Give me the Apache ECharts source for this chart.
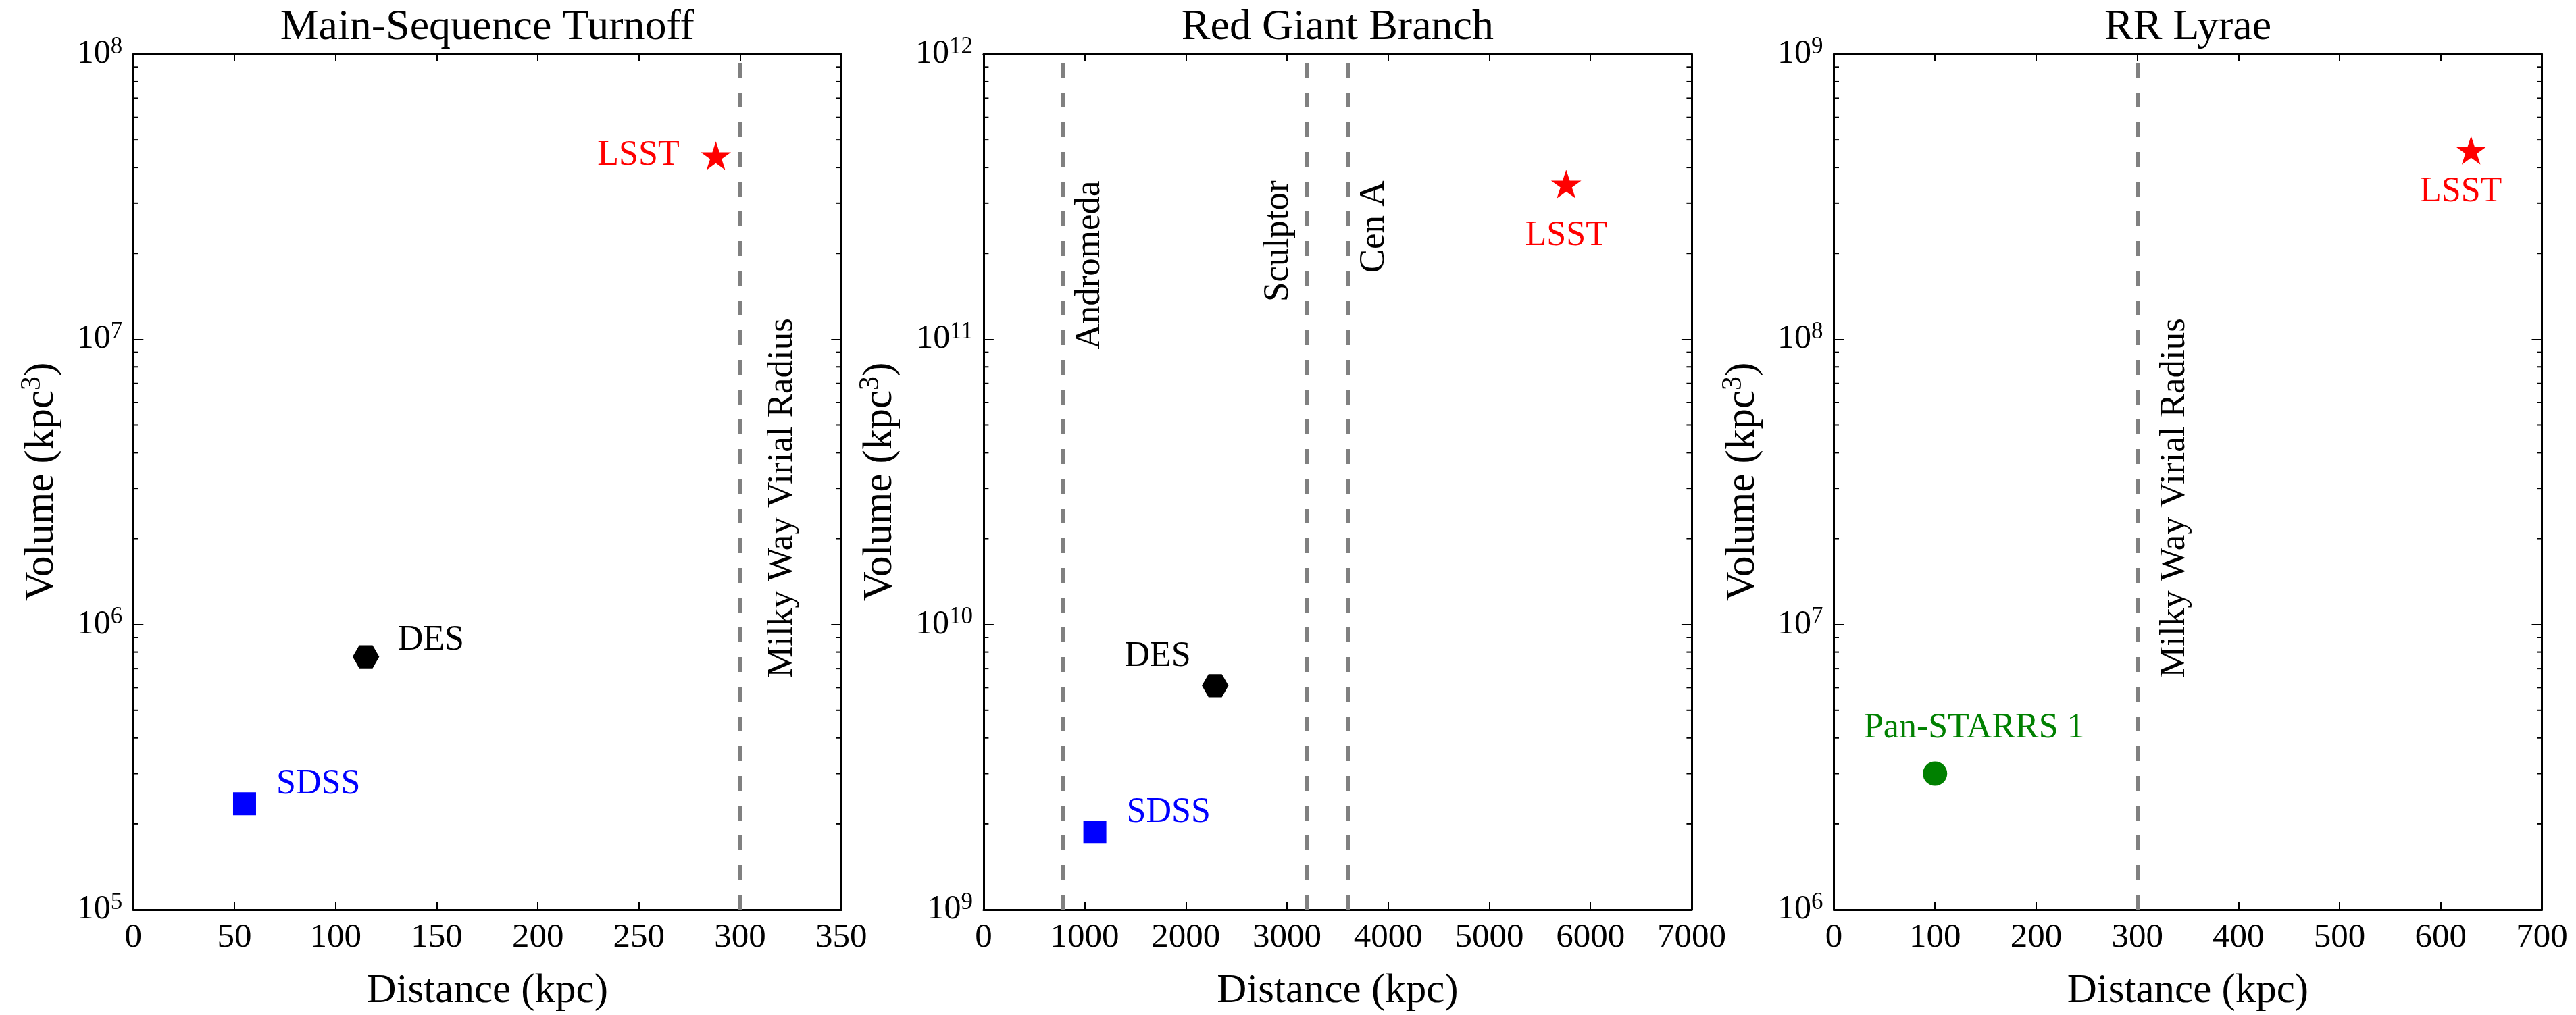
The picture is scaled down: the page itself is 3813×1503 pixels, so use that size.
<!DOCTYPE html>
<html>
<head>
<meta charset="utf-8">
<title>Survey volumes</title>
<script src="https://cdn.jsdelivr.net/npm/echarts@6/dist/echarts.min.js"></script>
<style>
  html, body { margin: 0; padding: 0; background: #fff; }
  #chart { width: 3813px; height: 1503px; }
</style>
</head>
<body>
<div id="chart"></div>
<script>
// panels
const panelTitles = ['Main-Sequence Turnoff', 'Red Giant Branch', 'RR Lyrae'];
const xMax = [350, 7000, 700];
const xStep = [50, 1000, 100];
const yMin = [1e5, 1e9, 1e6];
const yMax = [1e8, 1e12, 1e9];
const minorMultipliers = [2, 3, 4, 5, 6, 7, 8, 9];

// surveys (distance in kpc, volume in kpc^3), one entry per panel
const lsstDist = [288, 5760, 630];
const lsstVol = [4.4e7, 3.5e11, 4.6e8];
const desDist = [115, 2290];
const desVol = [7.7e5, 6.1e9];
const sdssDist = [55, 1100];
const sdssVol = [2.35e5, 1.87e9];
const panStarrsDist = [100];
const panStarrsVol = [3.0e6];

// reference lines
const mwVirialRadius = 300;
const groupNames = ['Andromeda', 'Sculptor', 'Cen A'];
const groupDist = [780, 3200, 3600];

const FONT = "'Liberation Serif', 'Times New Roman', serif";
const RED = '#ff0000', BLUE = '#0000ff', GREEN = '#008000', BLACK = '#000000', GRAY = '#808080';

const gridLeft = [197.3, 1455.9, 2714.5];
const gridTop = 80, gridW = 1048, gridH = 1267;

function starPath() {
  const pts = [];
  for (let k = 0; k < 10; k++) {
    const r = k % 2 ? 0.381966 : 1;
    const a = -Math.PI / 2 + k * Math.PI / 5;
    pts.push((r * Math.cos(a)).toFixed(4) + ',' + (r * Math.sin(a)).toFixed(4));
  }
  return 'path://M' + pts.join('L') + 'Z';
}
const STAR = starPath();
const HEX = 'path://M0,866L500,0L1500,0L2000,866L1500,1732L500,1732Z';

const axisLine = { show: true, onZero: false, lineStyle: { color: BLACK, width: 3 } };

const grids = [], xAxes = [], yAxes = [], series = [];

for (let i = 0; i < 3; i++) {
  grids.push({ left: gridLeft[i], top: gridTop, width: gridW, height: gridH,
    containLabel: false, outerBoundsMode: 'none' });
}
// bottom x axes 0..2
for (let i = 0; i < 3; i++) {
  xAxes.push({
    type: 'value', gridIndex: i, position: 'bottom', min: 0, max: xMax[i], interval: xStep[i],
    axisLine: axisLine,
    axisTick: { show: true, inside: true, length: 11, lineStyle: { color: BLACK, width: 2 } },
    splitLine: { show: false },
    axisLabel: { fontSize: 51, color: BLACK, fontFamily: FONT, margin: 16, formatter: v => String(v) },
    name: 'Distance (kpc)', nameLocation: 'middle', nameGap: 90,
    nameTextStyle: { fontSize: 61, color: BLACK, fontFamily: FONT }
  });
}
// top x axes 3..5 (carry the panel titles)
for (let i = 0; i < 3; i++) {
  xAxes.push({
    type: 'value', gridIndex: i, position: 'top', min: 0, max: xMax[i], interval: xStep[i],
    axisLine: axisLine,
    axisTick: { show: true, inside: true, length: 11, lineStyle: { color: BLACK, width: 2 } },
    splitLine: { show: false },
    axisLabel: { show: false },
    name: panelTitles[i], nameLocation: 'middle', nameGap: 7,
    nameTextStyle: { fontSize: 64, color: BLACK, fontFamily: FONT }
  });
}
// left y axes 0..2
for (let i = 0; i < 3; i++) {
  yAxes.push({
    type: 'log', logBase: 10, gridIndex: i, position: 'left', min: yMin[i], max: yMax[i],
    axisLine: axisLine,
    axisTick: { show: true, inside: true, length: 15, lineStyle: { color: BLACK, width: 2 } },
    minorTick: { show: false },
    splitLine: { show: false },
    axisLabel: {
      margin: 16,
      formatter: v => '{b|10}{s|' + Math.round(Math.log10(v)) + '}',
      rich: {
        b: { fontSize: 50, lineHeight: 56, color: BLACK, fontFamily: FONT },
        s: { fontSize: 35, lineHeight: 35, color: BLACK, fontFamily: FONT, verticalAlign: 'top' }
      }
    },
    name: '{a|Volume (kpc}{s|3}{a|)}', nameLocation: 'middle', nameGap: i === 1 ? 118 : 100,
    nameTextStyle: {
      rich: {
        a: { fontSize: 61, lineHeight: 70, color: BLACK, fontFamily: FONT },
        s: { fontSize: 42, lineHeight: 42, color: BLACK, fontFamily: FONT, verticalAlign: 'top' }
      }
    }
  });
}
// right y axes 3..5
for (let i = 0; i < 3; i++) {
  yAxes.push({
    type: 'log', logBase: 10, gridIndex: i, position: 'right', min: yMin[i], max: yMax[i],
    axisLine: axisLine,
    axisTick: { show: true, inside: true, length: 15, lineStyle: { color: BLACK, width: 2 } },
    splitLine: { show: false },
    axisLabel: { show: false }
  });
}

function refLines(panel, xs) {
  return {
    type: 'scatter', xAxisIndex: panel, yAxisIndex: panel, data: [], silent: true, z: 2,
    markLine: {
      silent: true, symbol: ['none', 'none'], label: { show: false }, animation: false,
      lineStyle: { color: GRAY, width: 6, type: [22, 22] },
      emphasis: { disabled: true },
      data: xs.map(v => ({ xAxis: v }))
    }
  };
}

function minorTicks(panel) {
  const vals = [];
  const d0 = Math.round(Math.log10(yMin[panel])), d1 = Math.round(Math.log10(yMax[panel]));
  for (let d = d0; d < d1; d++) minorMultipliers.forEach(m => vals.push([0, m * Math.pow(10, d)]));
  return {
    type: 'custom', xAxisIndex: panel, yAxisIndex: panel, silent: true, clip: false, z: 3,
    data: vals,
    renderItem(params, api) {
      const y = api.coord([0, api.value(1)])[1];
      const cs = params.coordSys;
      const st = { stroke: BLACK, lineWidth: 2 };
      return { type: 'group', children: [
        { type: 'line', shape: { x1: cs.x, y1: y, x2: cs.x + 7.5, y2: y }, style: st },
        { type: 'line', shape: { x1: cs.x + cs.width, y1: y, x2: cs.x + cs.width - 7.5, y2: y }, style: st }
      ] };
    }
  };
}

function point(panel, x, y, symbol, size, color) {
  return {
    type: 'scatter', xAxisIndex: panel, yAxisIndex: panel, silent: true, z: 5,
    data: [[x, y]], symbol: symbol, symbolSize: size,
    itemStyle: { color: color, opacity: 1 }
  };
}

series.push(refLines(0, [mwVirialRadius]), minorTicks(0));
series.push(point(0, sdssDist[0], sdssVol[0], 'rect', 34, BLUE));
series.push(point(0, desDist[0], desVol[0], HEX, [39.4, 34.1], BLACK));
series.push(point(0, lsstDist[0], lsstVol[0], STAR, [44.7, 42.5], RED));

series.push(refLines(1, groupDist), minorTicks(1));
series.push(point(1, sdssDist[1], sdssVol[1], 'rect', 34, BLUE));
series.push(point(1, desDist[1], desVol[1], HEX, [39.4, 34.1], BLACK));
series.push(point(1, lsstDist[1], lsstVol[1], STAR, [44.7, 42.5], RED));

series.push(refLines(2, [mwVirialRadius]), minorTicks(2));
series.push(point(2, panStarrsDist[0], panStarrsVol[0], 'circle', 36, GREEN));
series.push(point(2, lsstDist[2], lsstVol[2], STAR, [44.7, 42.5], RED));

const chart = echarts.init(document.getElementById('chart'), null, { renderer: 'canvas' });
chart.setOption({
  backgroundColor: '#ffffff',
  animation: false,
  grid: grids, xAxis: xAxes, yAxis: yAxes, series: series
});

// text annotations, anchored to data points via the chart's own scales
const notes = [
  { panel: 0, text: 'LSST', color: RED, at: [lsstDist[0], lsstVol[0]], dx: -54, dy: 0, align: 'right' },
  { panel: 0, text: 'DES', color: BLACK, at: [desDist[0], desVol[0]], dx: 47, dy: -24, align: 'left' },
  { panel: 0, text: 'SDSS', color: BLUE, at: [sdssDist[0], sdssVol[0]], dx: 47, dy: -29, align: 'left' },
  { panel: 1, text: 'LSST', color: RED, at: [lsstDist[1], lsstVol[1]], dx: 0, dy: 77, align: 'center' },
  { panel: 1, text: 'DES', color: BLACK, at: [desDist[1], desVol[1]], dx: -36, dy: -43, align: 'right' },
  { panel: 1, text: 'SDSS', color: BLUE, at: [sdssDist[1], sdssVol[1]], dx: 47, dy: -29, align: 'left' },
  { panel: 2, text: 'LSST', color: RED, at: [lsstDist[2], lsstVol[2]], dx: -15, dy: 62, align: 'center' },
  { panel: 2, text: 'Pan-STARRS 1', color: GREEN, at: [panStarrsDist[0], panStarrsVol[0]], dx: 58, dy: -67, align: 'center' }
];
const lineNotes = [
  { panel: 0, text: 'Milky Way Virial Radius', at: [mwVirialRadius, 1.186e7], dx: 36 },
  { panel: 2, text: 'Milky Way Virial Radius', at: [mwVirialRadius, 1.186e8], dx: 29 },
  { panel: 1, text: groupNames[0], at: [groupDist[0], 3.6e11], dx: 14 },
  { panel: 1, text: groupNames[1], at: [groupDist[1], 3.6e11], dx: -69 },
  { panel: 1, text: groupNames[2], at: [groupDist[2], 3.6e11], dx: 13 }
];

const graphics = [];
notes.forEach(n => {
  const p = chart.convertToPixel({ xAxisIndex: n.panel, yAxisIndex: n.panel }, n.at);
  graphics.push({
    type: 'text', x: p[0] + n.dx, y: p[1] + n.dy, silent: true, z: 10,
    style: { text: n.text, fill: n.color, fontSize: 52, fontFamily: FONT, align: n.align, verticalAlign: 'middle' }
  });
});
lineNotes.forEach(n => {
  const p = chart.convertToPixel({ xAxisIndex: n.panel, yAxisIndex: n.panel }, n.at);
  graphics.push({
    type: 'text', x: p[0] + n.dx, y: p[1], rotation: Math.PI / 2, silent: true, z: 10,
    style: { text: n.text, fill: BLACK, fontSize: 53, fontFamily: FONT, align: 'right', verticalAlign: 'top' }
  });
});
chart.setOption({ graphic: graphics });
</script>
</body>
</html>
